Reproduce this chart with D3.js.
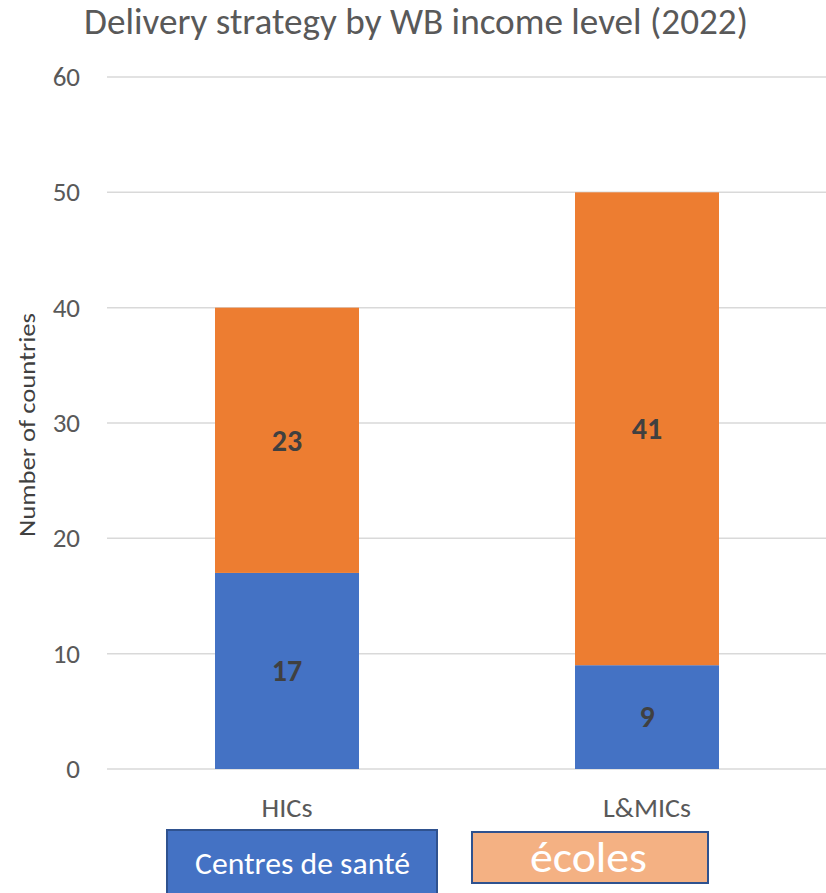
<!DOCTYPE html>
<html>
<head>
<meta charset="utf-8">
<script src="https://cdn.jsdelivr.net/npm/d3@7"></script>
<style>
  body { margin: 0; background: #fff; }
  svg { display: block; font-family: Carlito, Calibri, Lato, sans-serif; }
</style>
</head>
<body>
<svg width="826" height="893"></svg>
<script>
'use strict'

const categories = ['HICs', 'L&MICs'];
const healthCentres = [17, 9];
const schools = [23, 41];
const yTicks = [0, 10, 20, 30, 40, 50, 60];
const seriesNames = ['Centres de santé', 'écoles'];

const svg = d3.select('svg');
const plotLeft = 107, plotRight = 827, plotTop = 77, plotBottom = 769;

const x = d3.scaleBand().domain(categories).range([plotLeft, plotRight]).paddingInner(0.6).paddingOuter(0.3);
const y = d3.scaleLinear().domain([0, 60]).range([plotBottom, plotTop]);

// title
svg.append('text')
  .attr('x', 84).attr('y', 34)
  .attr('textLength', 664).attr('lengthAdjust', 'spacingAndGlyphs')
  .style('font-size', '36px').style('fill', '#595959')
  .text('Delivery strategy by WB income level (2022)');

// gridlines
svg.append('g').selectAll('line')
  .data(yTicks)
  .join('line')
  .attr('x1', plotLeft).attr('x2', plotRight)
  .attr('y1', d => y(d)).attr('y2', d => y(d))
  .attr('stroke', '#D9D9D9').attr('stroke-width', 1.5);

// y axis labels
const yAxis = svg.append('g')
  .attr('transform', 'translate(80,0)')
  .call(d3.axisLeft(y).tickValues(yTicks).tickSize(0).tickPadding(0));
yAxis.select('.domain').remove();
yAxis.selectAll('text').style('font-size', '27px').style('fill', '#595959')
  .style('font-family', 'Carlito, Calibri, Lato, sans-serif');

svg.append('text')
  .attr('transform', 'translate(35,425) rotate(-90)')
  .attr('x', -112)
  .attr('textLength', 224).attr('lengthAdjust', 'spacingAndGlyphs')
  .style('font-size', '23px').style('fill', '#404040')
  .text('Number of countries');

// stacked bars
const rows = categories.map((c, i) => ({ cat: c, health: healthCentres[i], school: schools[i] }));
const stack = d3.stack().keys(['health', 'school'])(rows);
const colors = ['#4472C4', '#ED7D31'];

stack.forEach((layer, k) => {
  const g = svg.append('g');
  g.selectAll('rect')
    .data(layer)
    .join('rect')
    .attr('x', d => x(d.data.cat))
    .attr('width', x.bandwidth())
    .attr('y', d => y(d[1]))
    .attr('height', d => y(d[0]) - y(d[1]))
    .attr('fill', colors[k]);
  g.selectAll('text')
    .data(layer)
    .join('text')
    .attr('x', d => x(d.data.cat) + x.bandwidth() / 2)
    .attr('y', d => y((d[0] + d[1]) / 2))
    .attr('dy', '0.34em')
    .attr('text-anchor', 'middle')
    .style('font-size', '30px').style('font-weight', 'bold').style('fill', '#404040')
    .text(d => d[1] - d[0]);
});

// category labels
const catWidths = [51, 88];
svg.append('g').selectAll('text')
  .data(categories)
  .join('text')
  .attr('x', (d, i) => x(d) + x.bandwidth() / 2 - catWidths[i] / 2)
  .attr('y', 817)
  .attr('textLength', (d, i) => catWidths[i]).attr('lengthAdjust', 'spacingAndGlyphs')
  .style('font-size', '26px').style('fill', '#595959')
  .text(d => d);

// legend boxes
svg.append('rect').attr('x', 167).attr('y', 830).attr('width', 270).attr('height', 70)
  .attr('fill', '#4472C4').attr('stroke', '#2F528F').attr('stroke-width', 2);
svg.append('text').attr('x', 195).attr('y', 874)
  .attr('textLength', 215).attr('lengthAdjust', 'spacingAndGlyphs')
  .style('font-size', '30px').style('fill', '#fff').text(seriesNames[0]);

svg.append('rect').attr('x', 472).attr('y', 832).attr('width', 236).attr('height', 51)
  .attr('fill', '#F4B183').attr('stroke', '#2F528F').attr('stroke-width', 2);
svg.append('text').attr('x', 530).attr('y', 872)
  .attr('textLength', 117).attr('lengthAdjust', 'spacingAndGlyphs')
  .style('font-size', '44px').style('fill', '#fff').text(seriesNames[1]);
</script>
</body>
</html>
